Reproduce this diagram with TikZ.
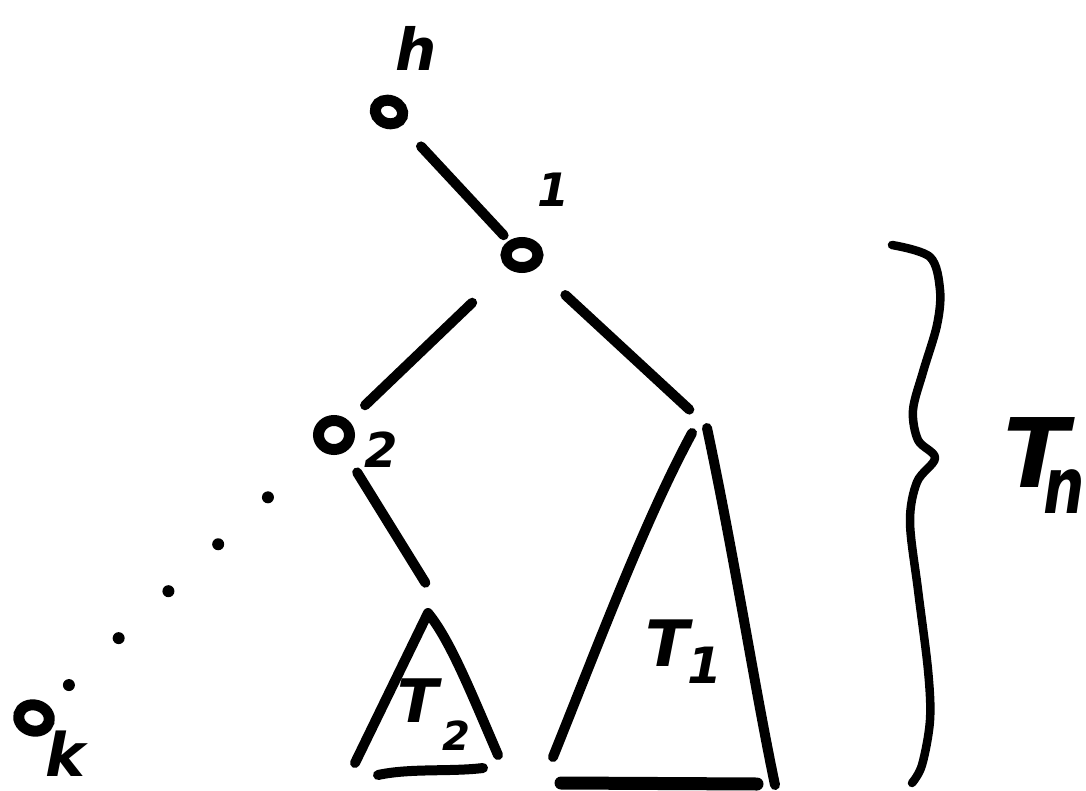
\documentclass[tikz,border=0pt]{standalone}
\usepackage{fontspec}
\setmainfont{DejaVu Sans}
\usetikzlibrary{shapes.geometric}
\begin{document}
\begin{tikzpicture}[x=1pt,y=-1pt,
  ink/.style={line width=10pt, line cap=round, line join=round},
  vertex/.style={ellipse, draw, line width=11pt, inner sep=0pt},
  lab/.style={inner sep=0pt, font=\fontsize{#1}{#1}\selectfont\bfseries\itshape},
  dotline/.style={line width=12pt, line cap=round, dash pattern=on 0pt off 68.4pt}
]
\useasboundingbox[fill=white] (0,0) rectangle (1086,791);

% vertices
\node[vertex, minimum width=28pt, minimum height=23pt, rotate=-20] (h) at (389,112) {};
\node[vertex, minimum width=32pt, minimum height=25pt] (n1) at (522,255) {};
\node[vertex, minimum width=31pt, minimum height=29pt] (n2) at (334,435) {};
\node[vertex, minimum width=31pt, minimum height=26pt, rotate=-15] (nk) at (34,718) {};

% labels
\node[lab=58pt] (lh) at (416,48) {h};
\node[lab=46pt] (l1) at (553,190) {1};
\node[lab=48pt] (l2) at (381,450) {2};
\node[lab=60pt] (lk) at (65,754) {k};
\node[lab=60pt] (t2T) at (418,701) {T};
\node[lab=40pt] (t2s) at (456,736) {2};
\node[lab=64pt] (t1T) at (667,643) {T};
\node[lab=50pt] (t1s) at (705,665) {1};
\node[lab=96pt, anchor=base west] (tn) at (1003,487)
  {T\kern-25pt\raisebox{-26pt}{\fontsize{58pt}{58pt}\selectfont\scalebox{1}[1.35]{n}}};

% connectors
\coordinate (t1top) at (693,413);
\coordinate (t2top) at (428,587);
\draw[ink, shorten <=47pt, shorten >=27pt] (h.center) -- (n1.center);
\draw[ink, shorten <=69pt, shorten >=43pt] (n1.center) -- (n2.center);
\draw[ink, shorten <=59pt, shorten >=5pt] (n1.center) -- (t1top);
\draw[ink, shorten <=44pt, shorten >=5pt] (n2.center) -- (t2top);
\draw[dotline, shorten <=48pt, shorten >=90pt] (nk.center) -- (n2.center);

% subtree T2
\coordinate (t2a) at (428,613);
\coordinate (t2l) at (355,763);
\coordinate (t2r) at (498,755);
\draw[ink] (t2l) -- (t2a) .. controls (450,640) and (470,690) .. (t2r);
\draw[ink] (378,775) .. controls (410,768) and (450,772) .. (483,768);

% subtree T1
\draw[ink] (692,433) .. controls (645,520) and (600,640) .. (553,757);
\draw[ink] (707,428) .. controls (735,560) and (755,690) .. (775,785);
\draw[ink, line width=13pt] (561,783) -- (757,784);

% brace
\draw[line width=8.5pt, line cap=round, line join=round] plot[smooth, tension=0.55] coordinates {
  (892,245) (930,257) (940,290) (937,325) (923,372) (913,410) (918,440) (935,458)
  (917,482) (910,522) (918,590) (928,670) (930,720) (922,765) (912,783)};
\end{tikzpicture}
\end{document}
